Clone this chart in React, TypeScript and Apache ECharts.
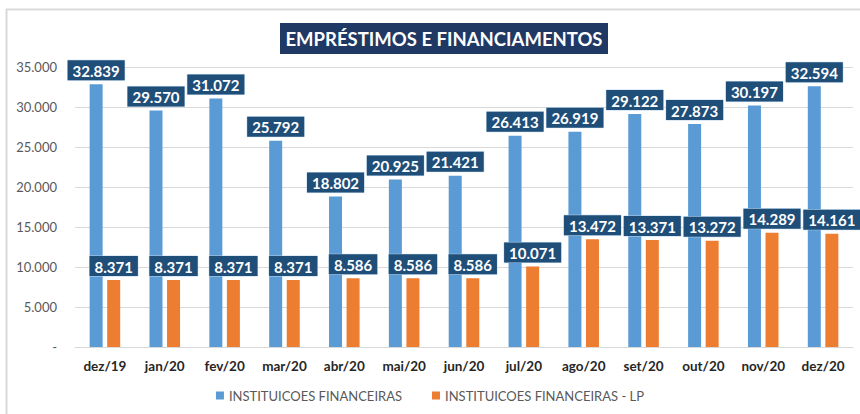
import React, { useEffect, useRef } from "react";
import * as echarts from "echarts";

const categories = ["dez/19", "jan/20", "fev/20", "mar/20", "abr/20", "mai/20", "jun/20", "jul/20", "ago/20", "set/20", "out/20", "nov/20", "dez/20"];
const instituicoes = [32839, 29570, 31072, 25792, 18802, 20925, 21421, 26413, 26919, 29122, 27873, 30197, 32594];
const instituicoesLP = [8371, 8371, 8371, 8371, 8586, 8586, 8586, 10071, 13472, 13371, 13272, 14289, 14161];
const seriesNames = ["INSTITUICOES FINANCEIRAS", "INSTITUICOES FINANCEIRAS - LP"];
const title = "EMPRÉSTIMOS E FINANCIAMENTOS";

const FONT = "Lato, 'Noto Sans', sans-serif";

function fmt(v: number): string {
  if (v === 0) return "-";
  return Math.round(v).toString().replace(/\B(?=(\d{3})+(?!\d))/g, ".");
}

const labelStyle = {
  show: true,
  position: "top" as const,
  distance: 4,
  formatter: (p: any) => fmt(p.value),
  color: "#ffffff",
  fontFamily: FONT,
  fontWeight: "bold" as const,
  fontSize: 15,
  backgroundColor: "#1F4E79",
  borderColor: "#BDD7EE",
  borderWidth: 0.5,
  padding: [3, 5, 2, 5],
};

export default function App() {
  const ref = useRef<HTMLDivElement>(null);
  useEffect(() => {
    if (!ref.current) return;
    const chart = echarts.init(ref.current, null, { renderer: "svg" });
    chart.setOption({
      animation: false,
      backgroundColor: "#ffffff",
      textStyle: { fontFamily: FONT },
      graphic: [
        { type: "line", shape: { x1: 6, y1: 9.5, x2: 860, y2: 9.5 }, style: { stroke: "#D9D9D9", lineWidth: 2 } },
        { type: "line", shape: { x1: 6.5, y1: 9, x2: 6.5, y2: 414 }, style: { stroke: "#D9D9D9", lineWidth: 2 } },
        { type: "rect", shape: { x: 280, y: 23, width: 328, height: 31 }, style: { fill: "#1F3864" } },
        {
          type: "text",
          x: 444,
          y: 39,
          style: {
            text: title,
            fill: "#ffffff",
            font: `bold 18.5px ${FONT}`,
            textAlign: "center",
            textVerticalAlign: "middle",
          },
        },
      ],
      legend: {
        bottom: 7,
        left: "center",
        itemWidth: 8,
        itemHeight: 8,
        itemGap: 30,
        icon: "rect",
        textStyle: { color: "#595959", fontSize: 13, fontFamily: FONT },
        data: seriesNames,
      },
      grid: { left: 75, right: 7, top: 67, bottom: 67 },
      xAxis: {
        type: "category",
        data: categories,
        axisLine: { lineStyle: { color: "#D9D9D9" } },
        axisTick: { show: false },
        axisLabel: { color: "#262626", fontWeight: "bold", fontSize: 13.5, fontFamily: FONT, margin: 12, interval: 0 },
      },
      yAxis: {
        type: "value",
        min: 0,
        max: 35000,
        interval: 5000,
        axisLine: { show: false },
        axisTick: { show: false },
        splitLine: { lineStyle: { color: "#D9D9D9" } },
        axisLabel: { color: "#595959", fontSize: 13, fontFamily: FONT, margin: 18, formatter: (v: number) => fmt(v) },
      },
      series: [
        {
          name: seriesNames[0],
          type: "bar",
          data: instituicoes,
          barWidth: 13,
          barGap: "35%",
          itemStyle: { color: "#5B9BD5" },
          label: labelStyle,
        },
        {
          name: seriesNames[1],
          type: "bar",
          data: instituicoesLP,
          barWidth: 13,
          itemStyle: { color: "#ED7D31" },
          label: labelStyle,
        },
      ],
    });
    return () => chart.dispose();
  }, []);
  return <div ref={ref} style={{ position: "fixed", left: 0, top: 0, width: 860, height: 414 }} />;
}
